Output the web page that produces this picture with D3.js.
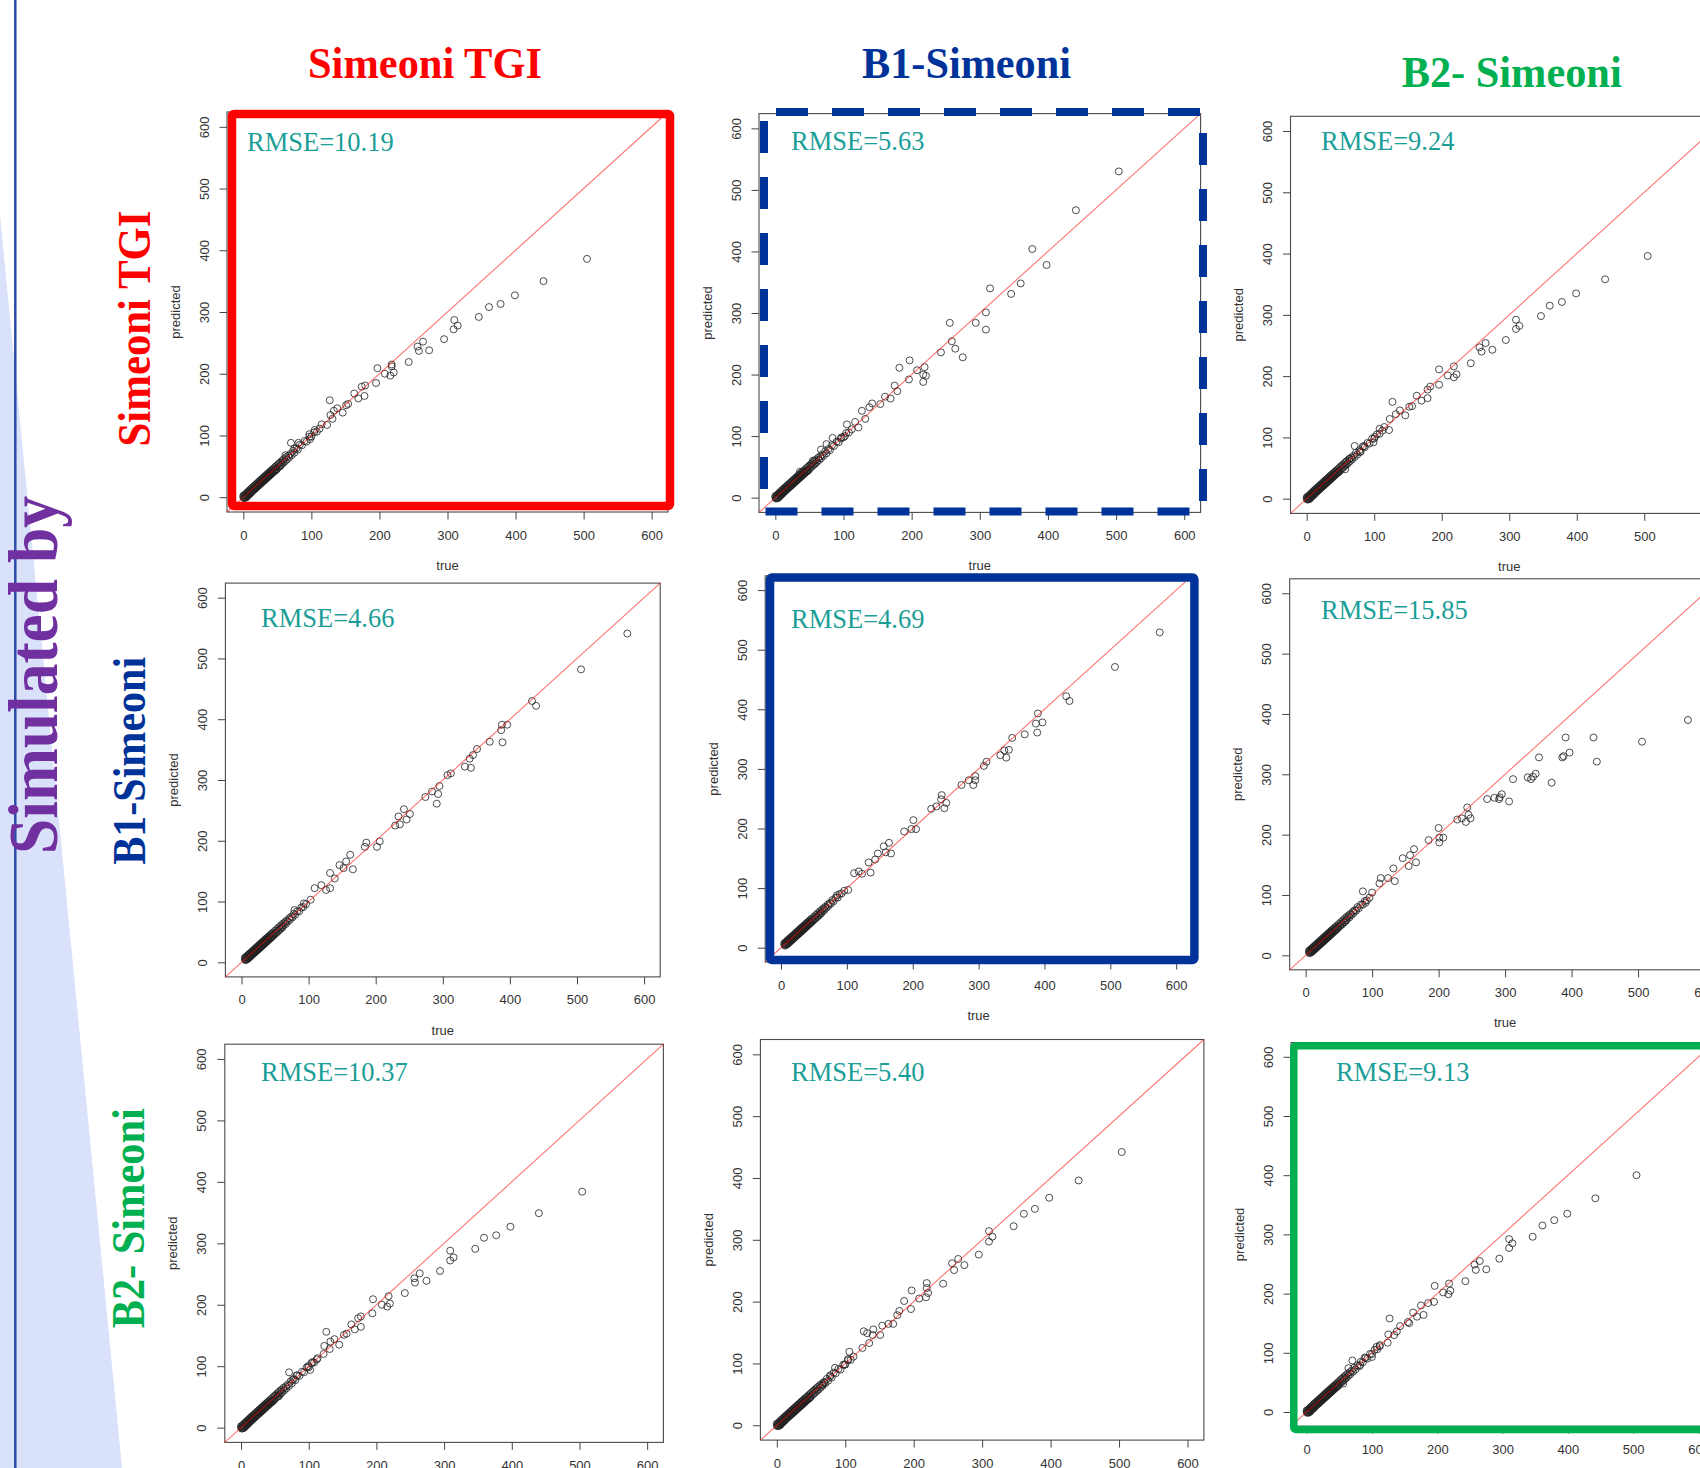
<!DOCTYPE html>
<html><head><meta charset="utf-8">
<script src="https://cdn.jsdelivr.net/npm/d3@7"></script>
<style>body{margin:0;background:#fff;} svg{display:block;}</style>
</head><body>
<svg id="chart" width="1700" height="1468"></svg>
<script>
// ---------------- DATA ----------------
const models = ["Simeoni TGI", "B1-Simeoni", "B2- Simeoni"];
const sideTitle = "Simulated by";
const xLabel = "true";
const yLabel = "predicted";
const tickValues = [0, 100, 200, 300, 400, 500, 600];
const axisLimits = [0, 600];
const rmseValues = [
  [10.19, 5.63, 9.24],
  [4.66, 4.69, 15.85],
  [10.37, 5.40, 9.13]
];

// dense low-range cloud, [true, predicted] (rows 1 and 3 share the same simulated data)
const denseRow1and3 = [
[0,0],[0,2.5],[1,-1.5],[1.5,3],[2,0],[2.5,-1],[3,4.5],[3.5,1.5],[4,-0.5],[4.5,6],[5,3],[5.5,1],[6,8],[6.5,4.5],[7,3],[7.5,9],[8,6],[8.5,4.5],[9,11],[9.5,7.5],[10,6],[10.5,12.5],[11,9],[11.5,7.5],[12,14],[12.5,10.5],[13,9.5],[13.5,15.5],[14,12],[14.5,11],[15,17],[15.5,13.5],[16,12.5],[16.5,18.5],[17,15],[17.5,14],[18,20],[18.5,16.5],[19,15.5],[19.5,21.5],[20,18],[20.5,17],[21,23],[21.5,19.5],[22,18.5],[22.5,24.5],[23,21],[23.5,20],[24,26],[24.5,22.5],[25,21.5],[25.5,27.5],[26,24],[26.5,23],[27,29],[27.5,25.5],[28,24.5],[28.5,30.5],[29,27],[29.5,26],[30,32],[30.5,28.5],[31,27.5],[31.5,33.5],[32,30],[32.5,29],[33,35],[33.5,31.5],[34,30.5],[34.5,36.5],[35,33],[35.5,32],[36,38],[36.5,34.5],[37,33.5],[37.5,39.5],[38,36],[38.5,35],[39,41],[39.5,37.5],[40,36.5],[40.5,42.5],[41,39],[41.5,38],[42,44],[42.5,40.5],[43,39.5],[44,46],[44.5,42],[45,41.5],[46,48],[46.5,44],[47,43],[48,50],[48.5,46],[49,45],[50,52],[51,48],[52,54],[53,50],[54,56],[55,52],[56,58],[57,54],[58,60],[59,56],[60,62],[61,58],[63,65],[64,61],[66,67],[67,64],[69,70],[71,68],[73,75],[75,72],[78,79],[80,77],[83,85],[86,84],[90,91],[93,90],[97,98],[100,98],[104,105],[108,106],[112,111]
];
const denseRow2 = [
[5,5],[5,7.5],[6,3.5],[6.5,8.5],[7,6],[7.5,4.5],[8,10],[8.5,7],[9,5.5],[9.5,11.5],[10,8.5],[10.5,7],[11,13],[11.5,10],[12,8.5],[12.5,14.5],[13,11.5],[13.5,10],[14,16],[14.5,13],[15,11.5],[15.5,17.5],[16,14.5],[16.5,13],[17,19],[17.5,16],[18,14.5],[18.5,20.5],[19,17.5],[19.5,16],[20,22],[20.5,19],[21,17.5],[21.5,23.5],[22,20.5],[22.5,19],[23,25],[23.5,22],[24,20.5],[24.5,26.5],[25,23.5],[25.5,22],[26,28],[26.5,25],[27,23.5],[27.5,29.5],[28,26.5],[28.5,25],[29,31],[29.5,28],[30,26.5],[30.5,32.5],[31,29.5],[31.5,28],[32,34],[32.5,31],[33,29.5],[33.5,35.5],[34,32.5],[34.5,31],[35,37],[35.5,34],[36,32.5],[36.5,38.5],[37,35.5],[37.5,34],[38,40],[38.5,37],[39,35.5],[39.5,41.5],[40,38.5],[40.5,37],[41,43],[42,40],[42.5,39],[43,45],[44,42],[44.5,41],[45,47],[46,44],[46.5,43],[47,49],[48,46],[49,45.5],[50,52],[51,49],[52,48.5],[53,55],[54,52],[55,51.5],[56,58],[57,55],[58,54.5],[59,61],[60,58],[61,57.5],[62,64],[63,61],[65,66],[66,63],[67,68.5],[69,67],[71,72.5],[72,70],[74,75],[76,74],[78,80],[80,78],[83,84],[86,84],[89,90],[92,91],[96,95.5]
];

// sparse upper points per panel, [true, predicted]
const simTGI_fitTGI = [[505,386],[441,350],[399,327],[378,313],[361,308],[346,292],[310,287],[315,278],[309,272],[295,256],[273,238],[264,252],[258,237],[256,244],[243,219],[218,215],[218,212],[221,202],[216,197],[208,200],[197,209],[195,185],[179,181],[174,179],[178,164],[169,160],[163,168],[154,151],[151,149],[127,157],[146,137],[138,144],[133,140],[128,133],[131,127],[123,117],[115,118],[105,109],[97,102],[98,94],[81,88],[70,88],[75,79],[62,68],[54,50]];
const simTGI_fitB1 = [[504,530],[441,467],[377,404],[398,378],[360,348],[346,331],[315,340],[309,301],[309,273],[294,284],[256,284],[259,254],[264,242],[275,228],[243,236],[219,212],[217,200],[221,198],[217,188],[208,207],[197,223],[196,192],[182,211],[175,182],[179,173],[169,161],[161,164],[154,152],[142,153],[138,147],[127,141],[132,128],[122,114],[117,123],[105,119],[102,100],[96,96],[84,97],[75,87],[67,78],[55,60],[36,42]];
const simTGI_fitB2 = [[505,396],[442,358],[399,335],[378,321],[360,315],[347,298],[310,292],[315,282],[310,277],[295,259],[275,243],[265,254],[259,240],[256,247],[243,221],[218,216],[218,198],[222,203],[209,201],[196,211],[196,186],[183,183],[179,178],[179,164],[170,160],[163,168],[156,151],[152,150],[127,158],[146,136],[138,144],[132,138],[123,130],[122,112],[115,117],[108,114],[101,101],[99,92],[85,86],[71,86],[79,76],[64,65],[57,48]];
const simB1_fitTGI = [[575,541],[506,482],[433,430],[439,422],[396,391],[388,391],[387,382],[389,362],[370,363],[351,351],[345,341],[340,335],[342,320],[333,322],[312,311],[307,308],[295,290],[293,277],[284,281],[291,261],[274,272],[251,244],[242,252],[246,235],[234,240],[229,225],[236,227],[206,199],[202,190],[186,197],[184,190],[162,177],[156,166],[146,160],[152,155],[166,153],[132,147],[139,138],[132,122],[119,127],[109,122],[126,119],[103,103],[93,97],[79,86]];
const simB1_fitB1 = [[575,529],[507,471],[433,422],[438,414],[390,393],[387,376],[397,378],[389,361],[370,358],[351,352],[346,332],[339,331],[342,319],[333,323],[312,312],[308,305],[295,288],[295,281],[292,273],[285,281],[274,273],[244,256],[243,249],[251,243],[248,234],[236,237],[228,233],[201,214],[205,199],[198,199],[187,195],[164,176],[156,170],[147,158],[159,160],[167,158],[143,148],[133,143],[136,126],[111,125],[123,124],[118,128],[102,97],[85,88]];
const simB1_fitB2 = [[575,390],[506,354],[433,361],[438,321],[391,361],[397,336],[388,330],[386,328],[370,286],[351,328],[346,301],[342,296],[339,292],[334,295],[312,292],[306,255],[295,267],[292,262],[291,259],[284,261],[273,259],[243,245],[245,233],[248,227],[241,221],[235,227],[228,225],[200,211],[201,195],[207,195],[201,187],[185,191],[166,154],[163,176],[157,166],[146,161],[155,148],[132,144],[134,123],[124,128],[113,128],[111,119],[100,104],[86,106],[90,87]];
const simB2_fitTGI = [[504,384],[440,349],[398,327],[377,313],[359,309],[346,291],[309,288],[314,277],[309,272],[294,255],[274,239],[264,251],[257,236],[256,243],[242,219],[218,214],[220,202],[216,197],[208,200],[195,209],[194,186],[177,181],[173,178],[177,164],[168,160],[163,168],[156,153],[152,151],[126,156],[145,135],[138,144],[132,140],[131,128],[123,133],[122,120],[113,113],[106,107],[99,100],[102,94],[82,85],[71,90],[76,78],[56,51]];
const simB2_fitB1 = [[504,442],[441,396],[398,368],[377,350],[361,342],[346,322],[310,314],[315,305],[310,297],[295,276],[274,259],[265,269],[259,251],[256,262],[243,229],[219,230],[219,222],[221,214],[218,207],[208,205],[197,218],[196,188],[186,201],[179,185],[176,178],[170,164],[163,164],[154,161],[151,146],[141,155],[140,146],[127,152],[132,149],[135,133],[125,125],[106,119],[104,107],[99,98],[85,93],[78,81],[69,69],[66,65]];
const simB2_fitB2 = [[505,400],[442,361],[399,335],[379,324],[361,315],[346,296],[310,292],[315,285],[310,277],[295,259],[275,241],[265,255],[259,240],[257,249],[243,221],[218,217],[220,205],[217,199],[209,202],[196,213],[195,186],[186,184],[175,180],[179,164],[169,161],[163,168],[157,150],[155,152],[127,158],[143,145],[138,136],[134,130],[125,131],[124,117],[112,113],[107,110],[100,93],[89,92],[82,79],[70,87],[64,74],[56,48]];

const panelPoints = [
  [denseRow1and3.concat(simTGI_fitTGI), denseRow1and3.concat(simTGI_fitB1), denseRow1and3.concat(simTGI_fitB2)],
  [denseRow2.concat(simB1_fitTGI), denseRow2.concat(simB1_fitB1), denseRow2.concat(simB1_fitB2)],
  [denseRow1and3.concat(simB2_fitTGI), denseRow1and3.concat(simB2_fitB1), denseRow1and3.concat(simB2_fitB2)]
];

// ---------------- LAYOUT / STYLE ----------------
const W = 1700, H = 1468;
const colors = {red: "#FF0000", blue: "#003399", green: "#00B050", purple: "#7030A0", teal: "#1B9E98"};
const modelColors = [colors.red, colors.blue, colors.green];
const boxes = [
  [{l:227,t:112,r:668,b:512},{l:759,t:113.6,r:1200.6,b:512.4},{l:1290.5,t:116.3,r:1728,b:513.4}],
  [{l:225.4,t:583.1,r:660.2,b:976.9},{l:765.2,t:575.8,r:1192,b:962},{l:1289.7,t:578.8,r:1720.5,b:969.8}],
  [{l:224.8,t:1044.2,r:663.4,b:1442.4},{l:760.4,t:1039.5,r:1203.9,b:1440.1},{l:1291,t:1042.6,r:1714.2,b:1426.2}]
];
const rmsePos = [
  [[247,151],[791,150],[1321,150]],
  [[261,627],[791,628],[1321,619]],
  [[261,1081],[791,1081],[1336,1081]]
];
const colTitles = [{x:425,y:78,len:234},{x:966.5,y:77.7,len:209},{x:1511.7,y:87,len:220}];
const rowTitles = [{x:149.6,y:328.5,len:236},{x:145,y:760.8,len:208},{x:143.7,y:1218.3,len:220}];

const svg = d3.select("#chart");
svg.append("rect").attr("width", W).attr("height", H).attr("fill", "#fff");

// lavender wedge on the left
svg.append("polygon").attr("points", "0,215 122,1468 0,1468").attr("fill", "#DAE1FA");
svg.append("line").attr("x1", 15.3).attr("x2", 15.3).attr("y1", 0).attr("y2", H)
  .attr("stroke", "#2B4BA8").attr("stroke-width", 2.5);

// side title
svg.append("text").text(sideTitle)
  .attr("transform", "translate(57,675) rotate(-90)")
  .attr("text-anchor", "middle")
  .attr("font-family", "Liberation Serif, Times New Roman, serif")
  .attr("font-weight", "bold").attr("font-size", 70)
  .attr("textLength", 358).attr("lengthAdjust", "spacingAndGlyphs")
  .attr("fill", colors.purple);

// column and row titles
models.forEach((m, i) => {
  svg.append("text").text(m)
    .attr("x", colTitles[i].x).attr("y", colTitles[i].y)
    .attr("text-anchor", "middle")
    .attr("font-family", "Liberation Serif, Times New Roman, serif")
    .attr("font-weight", "bold").attr("font-size", 44)
    .attr("textLength", colTitles[i].len).attr("lengthAdjust", "spacingAndGlyphs")
    .attr("fill", modelColors[i]);
  svg.append("text").text(m)
    .attr("transform", `translate(${rowTitles[i].x},${rowTitles[i].y}) rotate(-90)`)
    .attr("text-anchor", "middle")
    .attr("font-family", "Liberation Serif, Times New Roman, serif")
    .attr("font-weight", "bold").attr("font-size", 46)
    .attr("textLength", rowTitles[i].len).attr("lengthAdjust", "spacingAndGlyphs")
    .attr("fill", modelColors[i]);
});

const fmt = d3.format(".2f");
const axisFont = "Liberation Sans, Arial, Helvetica, sans-serif";

function drawPanel(box, pts, rmse, rp) {
  const g = svg.append("g");
  // R-style 4% extension of the limits
  const span = axisLimits[1] - axisLimits[0];
  const dom = [axisLimits[0] - 0.04 * span, axisLimits[1] + 0.04 * span];
  const x = d3.scaleLinear().domain(dom).range([box.l, box.r]);
  const y = d3.scaleLinear().domain(dom).range([box.b, box.t]);

  g.append("rect").attr("x", box.l).attr("y", box.t)
    .attr("width", box.r - box.l).attr("height", box.b - box.t)
    .attr("fill", "none").attr("stroke", "#4a4a4a").attr("stroke-width", 1.1);

  const xa = g.append("g").attr("transform", `translate(0,${box.b})`)
    .call(d3.axisBottom(x).tickValues(tickValues).tickSize(7.5).tickFormat(d3.format("d")));
  xa.select(".domain").remove();
  xa.attr("font-family", axisFont).attr("font-size", 13).attr("color", "#444");
  xa.selectAll("text").attr("y", 27.6).attr("dy", null).attr("fill", "#333");

  const ya = g.append("g").attr("transform", `translate(${box.l},0)`)
    .call(d3.axisLeft(y).tickValues(tickValues).tickSize(7.5).tickFormat(d3.format("d")));
  ya.select(".domain").remove();
  ya.attr("font-family", axisFont).attr("font-size", 13).attr("color", "#444");
  ya.selectAll("text").attr("x", null).attr("dy", null)
    .attr("text-anchor", "middle").attr("fill", "#333")
    .attr("transform", "translate(-18.4,0) rotate(-90)");

  g.append("text").text(xLabel)
    .attr("x", (box.l + box.r) / 2).attr("y", box.b + 57.6)
    .attr("text-anchor", "middle").attr("font-family", axisFont)
    .attr("font-size", 13).attr("fill", "#333");
  g.append("text").text(yLabel)
    .attr("transform", `translate(${box.l - 47.5},${(box.t + box.b) / 2}) rotate(-90)`)
    .attr("text-anchor", "middle").attr("font-family", axisFont)
    .attr("font-size", 13).attr("fill", "#333");

  g.append("g").selectAll("circle").data(pts).join("circle")
    .attr("cx", d => x(d[0])).attr("cy", d => y(d[1])).attr("r", 3.5)
    .attr("fill", "none").attr("stroke", "#222").attr("stroke-opacity", 0.8)
    .attr("stroke-width", 1);

  g.append("line")
    .attr("x1", x(dom[0])).attr("y1", y(dom[0]))
    .attr("x2", x(dom[1])).attr("y2", y(dom[1]))
    .attr("stroke", "#FF0000").attr("stroke-opacity", 0.55).attr("stroke-width", 1.1);

  g.append("text").text("RMSE=" + fmt(rmse))
    .attr("x", rp[0]).attr("y", rp[1])
    .attr("font-family", "Liberation Serif, Times New Roman, serif")
    .attr("font-size", 26.5).attr("fill", colors.teal);
}

for (let r = 0; r < 3; r++) {
  for (let c = 0; c < 3; c++) {
    drawPanel(boxes[r][c], panelPoints[r][c], rmseValues[r][c], rmsePos[r][c]);
  }
}

// highlight frames
svg.append("rect").attr("x", 232).attr("y", 114).attr("width", 438).attr("height", 392)
  .attr("fill", "none").attr("stroke", colors.red).attr("stroke-width", 8.5)
  .attr("rx", 2).attr("stroke-linejoin", "round");
svg.append("rect").attr("x", 764).attr("y", 112).attr("width", 439).attr("height", 399.5)
  .attr("fill", "none").attr("stroke", colors.blue).attr("stroke-width", 8)
  .attr("stroke-dasharray", "32 24").attr("stroke-dashoffset", 44);
svg.append("rect").attr("x", 770).attr("y", 577.5).attr("width", 424.4).attr("height", 382.5)
  .attr("fill", "none").attr("stroke", colors.blue).attr("stroke-width", 8.5)
  .attr("rx", 2).attr("stroke-linejoin", "round");
svg.append("rect").attr("x", 1293.8).attr("y", 1045.8).attr("width", 500).attr("height", 383.7)
  .attr("fill", "none").attr("stroke", colors.green).attr("stroke-width", 7.5)
  .attr("rx", 2).attr("stroke-linejoin", "round");
</script>
</body></html>
